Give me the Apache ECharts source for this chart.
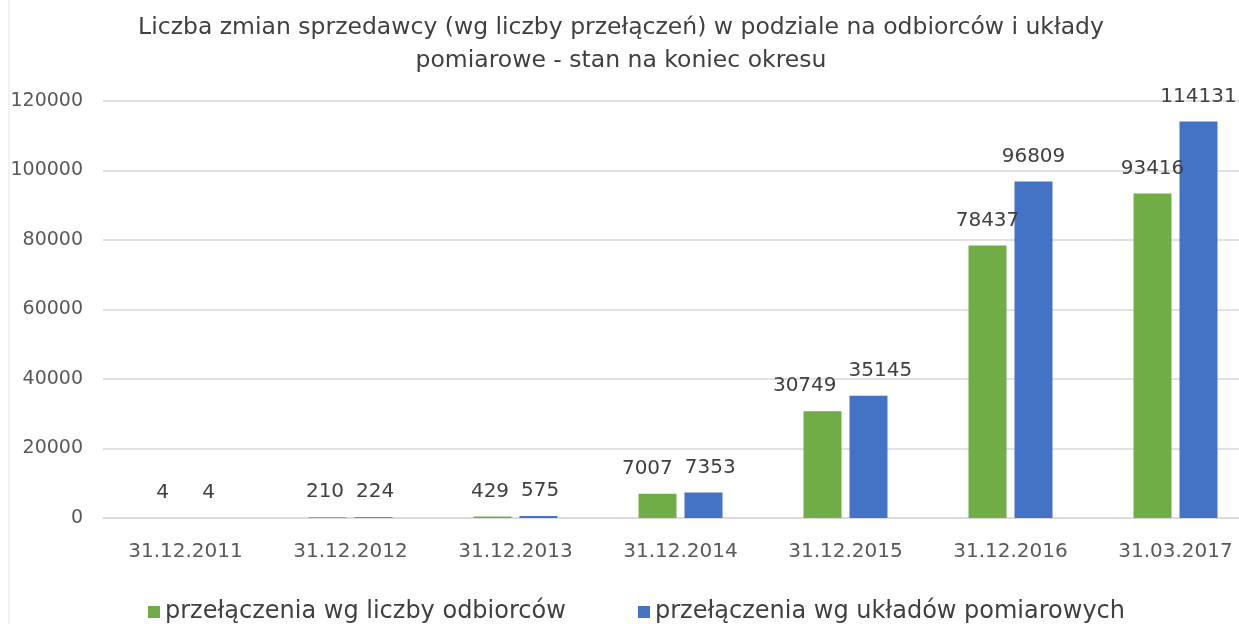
<!DOCTYPE html>
<html>
<head>
<meta charset="utf-8">
<script src="https://cdn.jsdelivr.net/npm/echarts@6/dist/echarts.min.js"></script>
<style>
  html, body { margin: 0; padding: 0; background: #fff; overflow: hidden; }
  #chart { width: 1260px; height: 624px; }
</style>
</head>
<body>
<div id="chart"></div>
<script>
const categories = ['31.12.2011', '31.12.2012', '31.12.2013', '31.12.2014', '31.12.2015', '31.12.2016', '31.03.2017'];
const odbiorcy = [4, 210, 429, 7007, 30749, 78437, 93416];
const uklady = [4, 224, 575, 7353, 35145, 96809, 114131];
const seriesNames = ['przełączenia wg liczby odbiorców', 'przełączenia wg układów pomiarowych'];

const font = '"DejaVu Sans", "Noto Sans", sans-serif';
const yMax = 120000;
const plotTop = 101, plotBottom = 106, chartH = 624;

// spread the two labels of a pair sideways when they would collide (like Excel does)
function nudge(params) {
    const i = params.dataIndex, s = params.seriesIndex;
    const own = s === 0 ? odbiorcy[i] : uklady[i];
    const other = s === 0 ? uklady[i] : odbiorcy[i];
    const scale = (chartH - plotTop - plotBottom) / yMax;
    if (Math.abs(own - other) * scale >= params.labelRect.height) return {};
    const pitch = params.rect.width * 1.21;
    const ov = params.labelRect.width - pitch + 12;
    if (ov <= 0) return {};
    return { dx: s === 0 ? -ov * 0.6 : ov * 0.4 };
}

const labelStyle = {
    show: true,
    position: 'top',
    distance: 15,
    color: '#404040',
    fontSize: 20,
    fontFamily: font
};

const legendBase = {
    top: 595,
    itemWidth: 12,
    itemHeight: 12,
    itemGap: 10,
    icon: 'rect',
    textStyle: { color: '#404040', fontSize: 24, fontFamily: font }
};

let option = {
    animation: false,
    graphic: [{
        type: 'text',
        x: 621,
        y: 11,
        style: {
            text: 'Liczba zmian sprzedawcy (wg liczby przełączeń) w podziale na odbiorców i układy\npomiarowe - stan na koniec okresu',
            align: 'center',
            verticalAlign: 'top',
            fill: '#404040',
            fontSize: 23.5,
            fontFamily: font,
            lineHeight: 33
        }
    }, {
        type: 'line',
        shape: { x1: 9, y1: 0, x2: 9, y2: 624 },
        style: { stroke: '#e6e6e6', lineWidth: 1 }
    }],
    legend: [
        Object.assign({}, legendBase, { left: 143, data: [seriesNames[0]] }),
        Object.assign({}, legendBase, { left: 633, data: [seriesNames[1]] })
    ],
    grid: {
        top: plotTop,
        bottom: plotBottom,
        left: 103,
        right: 2
    },
    xAxis: {
        type: 'category',
        data: categories,
        axisTick: { show: false },
        axisLine: { lineStyle: { color: '#d9d9d9', width: 1.5 } },
        axisLabel: { color: '#595959', fontSize: 20, fontFamily: font, margin: 24 }
    },
    yAxis: {
        type: 'value',
        min: 0,
        max: yMax,
        interval: 20000,
        axisLine: { show: false },
        axisTick: { show: false },
        splitLine: { lineStyle: { color: '#d9d9d9', width: 1.5 } },
        axisLabel: {
            color: '#595959', fontSize: 19, fontFamily: font, margin: 20,
            formatter: function (v) { return String(v); }
        }
    },
    series: [{
        name: seriesNames[0],
        type: 'bar',
        barWidth: 38,
        barGap: '21%',
        itemStyle: { color: '#70AD47' },
        label: labelStyle,
        labelLayout: nudge,
        data: odbiorcy
    }, {
        name: seriesNames[1],
        type: 'bar',
        barWidth: 38,
        itemStyle: { color: '#4472C4' },
        label: labelStyle,
        labelLayout: nudge,
        data: uklady
    }]
};

const myChart = echarts.init(document.getElementById('chart'));
myChart.setOption(option);
</script>
</body>
</html>
